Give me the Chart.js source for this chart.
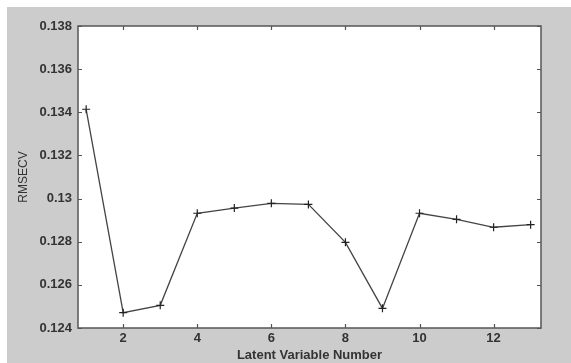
<!DOCTYPE html>
<html lang="en">
<head>
    <meta charset="UTF-8">
    <title>RMSECV vs Latent Variable Number</title>
    <script src="https://cdn.jsdelivr.net/npm/chart.js"></script>
    <style>
        html, body { margin: 0; padding: 0; background: #fff; }
        #wrap { width: 571px; height: 363px; }
    </style>
</head>
<body>
    <div id="wrap"><canvas id="myChart" width="571" height="363"></canvas></div>

    <script>
        // data
        const latentVars = [1, 2, 3, 4, 5, 6, 7, 8, 9, 10, 11, 12, 13];
        const rmsecv = [0.13414, 0.12471, 0.12505, 0.12932, 0.12956, 0.12978, 0.12973,
                        0.12797, 0.12491, 0.12932, 0.12904, 0.12867, 0.12879];
        const xTicks = [2, 4, 6, 8, 10, 12];
        const yTicks = [0.124, 0.126, 0.128, 0.13, 0.132, 0.134, 0.136, 0.138];

        const textColor = '#333';
        const boxColor = '#555';

        // gray figure background, box and inward ticks (matlab look)
        const figurePlugin = {
            id: 'figure',
            beforeDraw(chart) {
                const c = chart.ctx;
                c.save();
                c.fillStyle = '#fff';
                c.fillRect(0, 0, chart.width, chart.height);
                c.fillStyle = '#cccccc';
                c.fillRect(7, 7, chart.width - 7, chart.height - 7);
                const a = chart.chartArea;
                c.fillStyle = '#fff';
                c.fillRect(a.left, a.top, a.right - a.left, a.bottom - a.top);
                c.restore();
            },
            afterDatasetsDraw(chart) {
                const c = chart.ctx;
                const a = chart.chartArea;
                const xs = chart.scales.x, ys = chart.scales.y;
                c.save();
                c.strokeStyle = boxColor;
                c.lineWidth = 1.5;
                c.strokeRect(a.left, a.top, a.right - a.left, a.bottom - a.top);
                c.lineWidth = 1.2;
                c.beginPath();
                xTicks.forEach(v => {
                    const px = Math.round(xs.getPixelForValue(v)) + 0.5;
                    c.moveTo(px, a.bottom); c.lineTo(px, a.bottom - 4);
                    c.moveTo(px, a.top); c.lineTo(px, a.top + 4);
                });
                yTicks.forEach(v => {
                    const py = Math.round(ys.getPixelForValue(v)) + 0.5;
                    c.moveTo(a.left, py); c.lineTo(a.left + 4, py);
                    c.moveTo(a.right, py); c.lineTo(a.right - 4, py);
                });
                c.stroke();
                c.restore();
            }
        };

        const ctx = document.getElementById('myChart').getContext('2d');
        const chart = new Chart(ctx, {
            type: 'line',
            data: {
                datasets: [{
                    data: latentVars.map((x, i) => ({ x: x, y: rmsecv[i] })),
                    borderColor: '#444',
                    borderWidth: 1.3,
                    pointStyle: 'cross',
                    pointRadius: 4,
                    pointBorderColor: '#222',
                    pointBorderWidth: 1.2,
                    tension: 0,
                    fill: false
                }]
            },
            options: {
                responsive: false,
                animation: false,
                events: [],
                layout: { padding: { top: 26, right: 30, left: 0, bottom: 0 } },
                plugins: {
                    legend: { display: false },
                    tooltip: { enabled: false }
                },
                scales: {
                    x: {
                        type: 'linear',
                        min: 0.78,
                        max: 13.28,
                        afterBuildTicks: s => { s.ticks = xTicks.map(v => ({ value: v })); },
                        afterFit: s => { s.height = 35; },
                        grid: { display: false, drawTicks: false },
                        border: { display: false },
                        ticks: {
                            color: textColor,
                            padding: 3,
                            maxRotation: 0,
                            font: { family: 'Liberation Sans, Arial', size: 13, weight: 'bold' }
                        },
                        title: {
                            display: true,
                            text: 'Latent Variable Number',
                            color: textColor,
                            padding: { top: 0, bottom: 0 },
                            font: { family: 'Liberation Sans, Arial', size: 13, weight: 'bold' }
                        }
                    },
                    y: {
                        min: 0.124,
                        max: 0.138,
                        afterBuildTicks: s => { s.ticks = yTicks.map(v => ({ value: v })); },
                        afterFit: s => { s.width = 78; },
                        grid: { display: false, drawTicks: false },
                        border: { display: false },
                        ticks: {
                            color: textColor,
                            padding: 6,
                            font: { family: 'Liberation Sans, Arial', size: 13, weight: 'bold' },
                            callback: v => String(Number(v.toFixed(3)))
                        },
                        title: {
                            display: true,
                            text: 'RMSECV',
                            color: textColor,
                            padding: { top: 16, bottom: 0 },
                            font: { family: 'Liberation Sans, Arial', size: 12 }
                        }
                    }
                }
            },
            plugins: [figurePlugin]
        });
    </script>
</body>
</html>
